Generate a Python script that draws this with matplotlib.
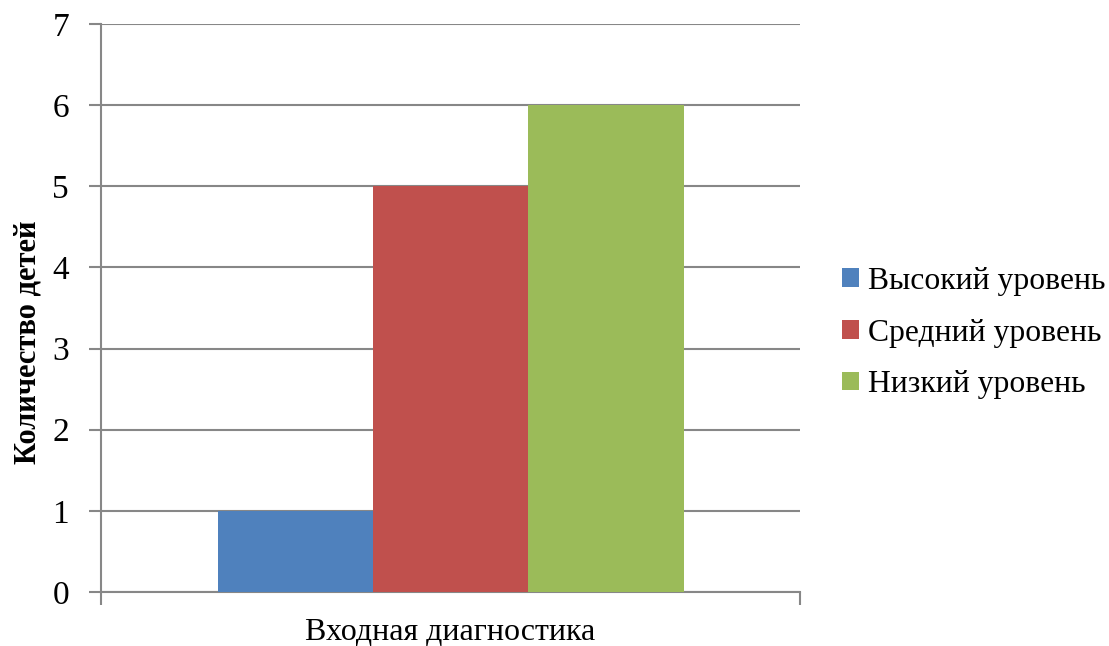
import matplotlib
matplotlib.use("Agg")
import matplotlib.pyplot as plt
from matplotlib.patches import Patch

categories = ["Входная диагностика"]
series_names = ["Высокий уровень", "Средний уровень", "Низкий уровень"]
series_values = [[1], [5], [6]]
colors = ["#4F81BD", "#C0504D", "#9BBB59"]
yticks = [0, 1, 2, 3, 4, 5, 6, 7]

plt.rcParams['font.family'] = ['Liberation Serif', 'DejaVu Serif']

fig = plt.figure(figsize=(11.09, 6.46), dpi=100)
ax = fig.add_axes([0.0911, 0.0836, 0.7214 - 0.0911, 0.9628 - 0.0836])

grid_c = "#878787"
w = 2 / 9
for i, (name, vals, c) in enumerate(zip(series_names, series_values, colors)):
    xs = [j + (i - 1) * w for j in range(len(categories))]
    ax.bar(xs, vals, width=w, color=c, label=name, zorder=3)

ax.set_xlim(-0.5, len(categories) - 0.5)
ax.set_ylim(0, 7)
ax.set_yticks(yticks)
ax.set_yticklabels([str(t) for t in yticks], fontsize=24)
ax.yaxis.grid(True, color=grid_c, linewidth=1.5, zorder=0)
ax.set_axisbelow(True)

ax.set_xticks([-0.5, 0.5])
ax.set_xticklabels([])
ax.tick_params(axis='x', length=9, width=1.5, color=grid_c)
ax.tick_params(axis='y', length=9, width=1.5, color=grid_c, pad=14)
ax.text(0, -0.046, categories[0], transform=ax.get_xaxis_transform(),
        ha='center', va='top', fontsize=23)

for s in ['top', 'right']:
    ax.spines[s].set_visible(False)
for s in ['left', 'bottom']:
    ax.spines[s].set_color(grid_c)
    ax.spines[s].set_linewidth(1.5)

fig.text(28 / 1109, 1 - 342 / 646, "Количество детей", rotation=90,
         ha='center', va='center', fontsize=22, fontweight='bold')

handles = [Patch(facecolor=c, label=n) for n, c in zip(series_names, colors)]
fig.legend(handles=handles, loc='center left', bbox_to_anchor=(842 / 1109, 1 - 333 / 646),
           frameon=False, fontsize=22.8, handlelength=0.53, handleheight=0.53,
           handletextpad=0.3, labelspacing=0.72, borderaxespad=0, borderpad=0)

fig.savefig("out.png", dpi=100)
